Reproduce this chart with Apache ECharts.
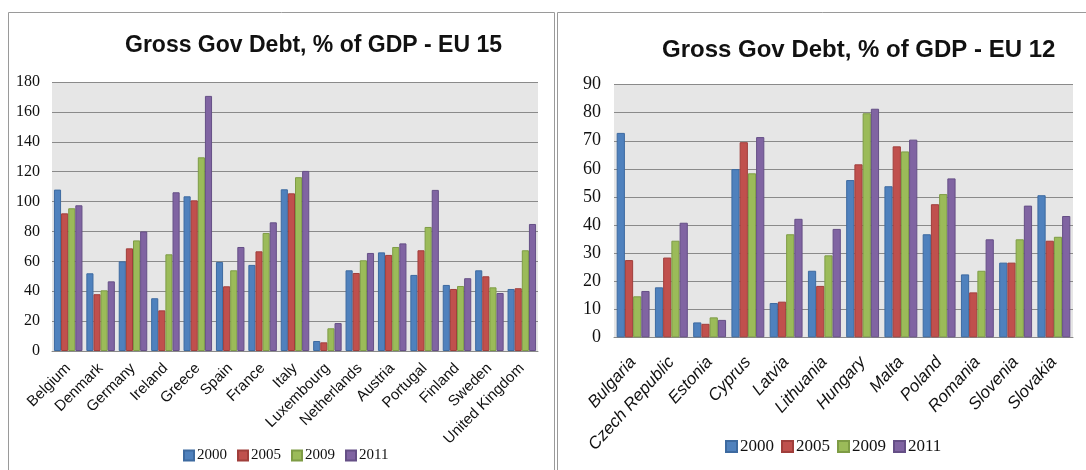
<!DOCTYPE html>
<html><head><meta charset="utf-8">
<script src="https://cdn.jsdelivr.net/npm/echarts@6/dist/echarts.min.js"></script>
<style>html,body{margin:0;padding:0;background:#fff}#c{width:1086px;height:470px}</style>
</head><body><div id="c"></div>
<script>
const years = ['2000','2005','2009','2011'];
const eu15Countries = ['Belgium','Denmark','Germany','Ireland','Greece','Spain','France','Italy','Luxembourg','Netherlands','Austria','Portugal','Finland','Sweden','United Kingdom'];
const eu15_2000 = [108,52,60,35.3,103.5,59.6,57.6,108.2,6.7,54,66,50.9,44.2,54,41.5];
const eu15_2005 = [92.1,38,68.7,27.2,100.8,43.3,66.7,105.5,5.8,52.2,64.3,67.4,41.5,50,42];
const eu15_2009 = [95.5,40.6,74,64.7,129.6,54,79,116.3,15.2,60.7,69.6,83,43.5,42.6,67.4];
const eu15_2011 = [97.5,46.6,80,106.2,170.7,69.6,86.1,120.5,18.7,65.6,72,107.8,48.7,38.8,85];

const eu12Countries = ['Bulgaria','Czech Republic','Estonia','Cyprus','Latvia','Lithuania','Hungary','Malta','Poland','Romania','Slovenia','Slovakia'];
const eu12_2000 = [72.8,17.8,5.3,59.9,12.2,23.7,56,53.8,36.7,22.4,26.6,50.6];
const eu12_2005 = [27.5,28.4,4.8,69.5,12.7,18.3,61.6,68,47.4,16,26.6,34.4];
const eu12_2009 = [14.6,34.4,7.1,58.4,36.7,29.2,79.8,66.2,51,23.7,34.9,35.8];
const eu12_2011 = [16.5,40.8,6.2,71.3,42.2,38.6,81.4,70.4,56.6,34.9,46.9,43.2];

const fills = ['#4f81bd','#c0504d','#9bbb59','#8064a2'];
const borders = ['#3d6aa0','#a03e3b','#7e9c45','#654f86'];
const eu15 = [eu15_2000, eu15_2005, eu15_2009, eu15_2011];
const eu12 = [eu12_2000, eu12_2005, eu12_2009, eu12_2011];

const chart = echarts.init(document.getElementById('c'));
const series = [];
years.forEach((y,i)=>{
  series.push({name:y,type:'bar',xAxisIndex:0,yAxisIndex:0,data:eu15[i],barGap:'0%',barCategoryGap:'12%',
    itemStyle:{color:fills[i],borderColor:borders[i],borderWidth:1}});
});
years.forEach((y,i)=>{
  series.push({name:y,type:'bar',xAxisIndex:1,yAxisIndex:1,data:eu12[i],barGap:'0%',barCategoryGap:'14%',
    itemStyle:{color:fills[i],borderColor:borders[i],borderWidth:1}});
});
chart.setOption({
  animation:false,
  graphic:[
    {type:'rect',shape:{x:8.5,y:12.5,width:546,height:480},style:{fill:'none',stroke:'#9a9a9a',lineWidth:1}},
    {type:'rect',shape:{x:557.5,y:12.5,width:560,height:480},style:{fill:'none',stroke:'#9a9a9a',lineWidth:1}}
  ],
  title:[
    {text:'Gross Gov Debt, % of GDP - EU 15',left:120,top:29,textStyle:{fontFamily:'Liberation Sans',fontWeight:'bold',fontSize:23,color:'#111'}},
    {text:'Gross Gov Debt, % of GDP - EU 12',left:657,top:33,textStyle:{fontFamily:'Liberation Sans',fontWeight:'bold',fontSize:24,color:'#111'}}
  ],
  legend:[
    {data:years,left:178,top:443,itemWidth:10,itemHeight:10,itemGap:10,icon:'rect',
      textStyle:{fontFamily:'Liberation Serif',fontSize:15,color:'#111',padding:[0,0,0,-2]}},
    {data:years,left:720,top:433,itemWidth:11,itemHeight:11,itemGap:7,icon:'rect',
      textStyle:{fontFamily:'Liberation Serif',fontSize:17,color:'#111',padding:[0,0,0,-2]}}
  ],
  grid:[
    {left:52,top:82,width:486,height:269,show:true,backgroundColor:'#e6e6e6',borderWidth:0},
    {left:614,top:84.6,width:459,height:252.7,show:true,backgroundColor:'#e6e6e6',borderWidth:0}
  ],
  xAxis:[
    {type:'category',gridIndex:0,data:eu15Countries,axisTick:{show:false},
      axisLine:{lineStyle:{color:'#8a8a8a'}},
      axisLabel:{interval:0,rotate:45,margin:15,fontFamily:'Liberation Sans',fontSize:15,color:'#111'}},
    {type:'category',gridIndex:1,data:eu12Countries,axisTick:{show:false},
      axisLine:{lineStyle:{color:'#8a8a8a'}},
      axisLabel:{interval:0,rotate:48,margin:22,fontFamily:'Liberation Sans',fontStyle:'italic',fontSize:17,color:'#111'}}
  ],
  yAxis:[
    {type:'value',gridIndex:0,min:0,max:180,interval:20,axisLine:{show:false},axisTick:{show:false},
      splitLine:{lineStyle:{color:'#8a8a8a',width:1}},
      axisLabel:{margin:12,fontFamily:'Liberation Serif',fontSize:16,color:'#111'}},
    {type:'value',gridIndex:1,min:0,max:90,interval:10,axisLine:{show:false},axisTick:{show:false},
      splitLine:{lineStyle:{color:'#8a8a8a',width:1}},
      axisLabel:{margin:13,fontFamily:'Liberation Serif',fontSize:18,color:'#111'}}
  ],
  series:series
});
</script></body></html>
